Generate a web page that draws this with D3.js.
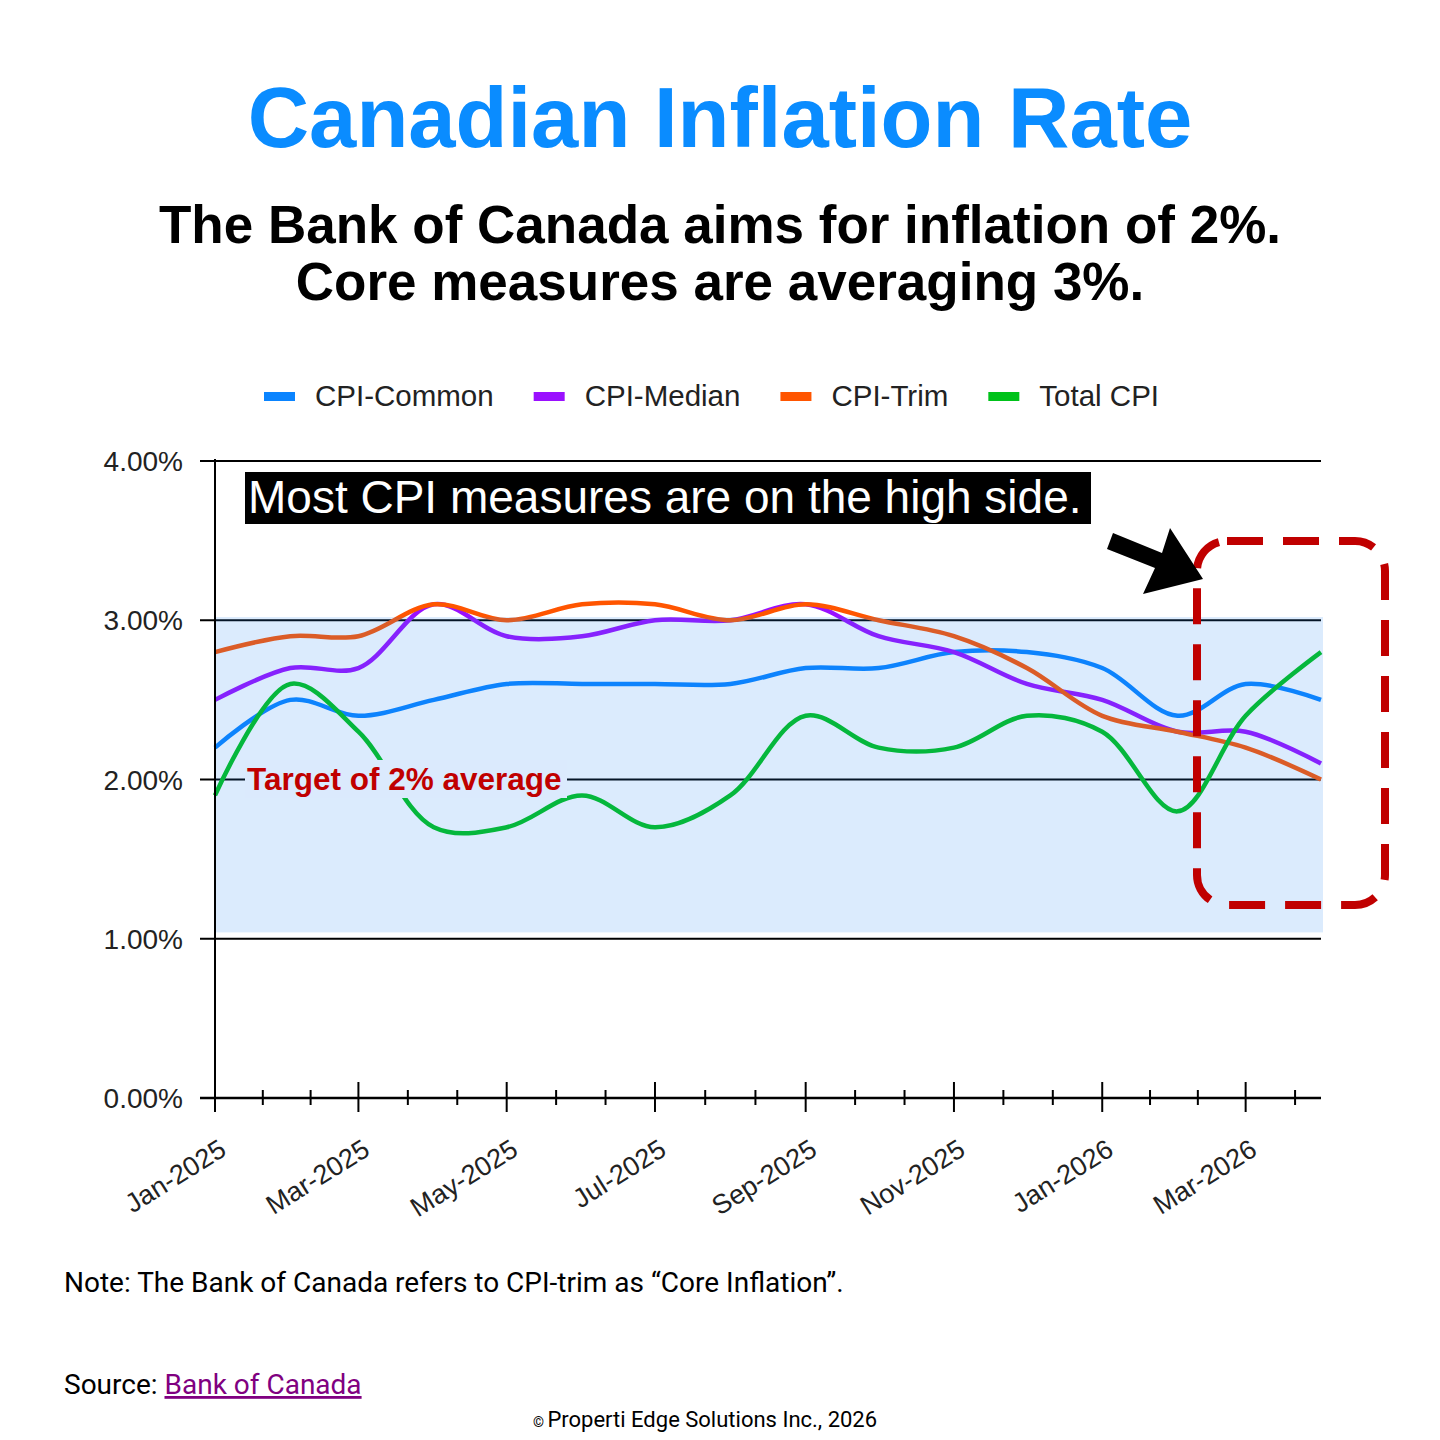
<!DOCTYPE html>
<html lang="en">
<head>
<meta charset="utf-8">
<script src="https://cdn.jsdelivr.net/npm/d3@7"></script>
<style>
  body { margin: 0; background: #fff; }
  svg { display: block; }
</style>
</head>
<body>
<script>
    // monthly data points (first of each month)
    const months = ["2025-01","2025-02","2025-03","2025-04","2025-05","2025-06","2025-07","2025-08",
                    "2025-09","2025-10","2025-11","2025-12","2026-01","2026-02","2026-03","2026-04"];
    const cpiCommon = [2.2, 2.5, 2.4, 2.5, 2.6, 2.6, 2.6, 2.6, 2.7, 2.7, 2.8, 2.8, 2.7, 2.4, 2.6, 2.5];
    const cpiMedian = [2.5, 2.7, 2.7, 3.1, 2.9, 2.9, 3.0, 3.0, 3.1, 2.9, 2.8, 2.6, 2.5, 2.3, 2.3, 2.1];
    const cpiTrim   = [2.8, 2.9, 2.9, 3.1, 3.0, 3.1, 3.1, 3.0, 3.1, 3.0, 2.9, 2.7, 2.4, 2.3, 2.2, 2.0];
    const totalCpi  = [1.9, 2.6, 2.3, 1.7, 1.7, 1.9, 1.7, 1.9, 2.4, 2.2, 2.2, 2.4, 2.3, 1.8, 2.4, 2.8];

    const seriesNames = ["CPI-Common", "CPI-Median", "CPI-Trim", "Total CPI"];
    const seriesColors = ["#0a84ff", "#9a10ff", "#ff5500", "#00c21a"];
    const yTicks = [0, 1, 2, 3, 4];
    const xTickMonths = ["2025-01","2025-03","2025-05","2025-07","2025-09","2025-11","2026-01","2026-03"];
    const band = [1.04, 3.02];   // shaded range

    const W = 1440, H = 1440;
    const parse = d3.utcParse("%Y-%m");
    const fmt = d3.utcFormat("%b-%Y");

    const svg = d3.select("body").append("svg")
        .attr("width", W).attr("height", H)
        .style("font-family", "'Liberation Sans', Arial, sans-serif");

    svg.append("rect").attr("width", W).attr("height", H).attr("fill", "#fff");

    // titles
    svg.append("text").attr("x", 720).attr("y", 147).attr("text-anchor", "middle")
        .attr("font-size", 85).attr("font-weight", "bold").attr("fill", "#0a8cff")
        .text("Canadian Inflation Rate");
    svg.append("text").attr("x", 720).attr("y", 243).attr("text-anchor", "middle")
        .attr("font-size", 53).attr("font-weight", "bold").attr("fill", "#000")
        .text("The Bank of Canada aims for inflation of 2%.");
    svg.append("text").attr("x", 720).attr("y", 300).attr("text-anchor", "middle")
        .attr("font-size", 53).attr("font-weight", "bold").attr("fill", "#000")
        .text("Core measures are averaging 3%.");

    // scales
    const x = d3.scaleUtc()
        .domain([parse("2025-01"), parse("2026-04")])
        .range([215, 1321]);
    const y = d3.scaleLinear().domain([0, 4]).range([1098, 461]);

    // horizontal grid lines
    svg.append("g").selectAll("line")
        .data(yTicks.filter(d => d > 0))
        .enter().append("line")
        .attr("x1", 200).attr("x2", x.range()[1])
        .attr("y1", d => y(d)).attr("y2", d => y(d))
        .attr("stroke", "#000").attr("stroke-width", 2);

    // y labels
    svg.append("g").selectAll("text")
        .data(yTicks)
        .enter().append("text")
        .attr("x", 183).attr("y", d => y(d) + 10)
        .attr("text-anchor", "end").attr("font-size", 28).attr("fill", "#222")
        .text(d => d.toFixed(2) + "%");

    // lines
    const line = d3.line()
        .x((d, i) => x(parse(months[i])))
        .y(d => y(d))
        .curve(d3.curveCatmullRom.alpha(0.5));

    const allSeries = [cpiCommon, cpiMedian, cpiTrim, totalCpi];
    svg.append("g").selectAll("path")
        .data(allSeries)
        .enter().append("path")
        .attr("d", d => line(d))
        .attr("fill", "none")
        .attr("stroke", (d, i) => seriesColors[i])
        .attr("stroke-width", 4.5)
        .attr("stroke-linejoin", "round");

    // shaded band drawn over the lines, semi transparent
    svg.append("rect")
        .attr("x", x.range()[0]).attr("width", x.range()[1] - x.range()[0] + 2)
        .attr("y", y(band[1])).attr("height", y(band[0]) - y(band[1]))
        .attr("fill", "rgb(30,130,240)").attr("fill-opacity", 0.16);

    // axes lines
    svg.append("line").attr("x1", 215).attr("x2", 215).attr("y1", 459).attr("y2", 1112)
        .attr("stroke", "#000").attr("stroke-width", 2);
    svg.append("line").attr("x1", 200).attr("x2", x.range()[1]).attr("y1", y(0)).attr("y2", y(0))
        .attr("stroke", "#000").attr("stroke-width", 2.5);

    // x ticks: majors every 2 months, two minors between
    const majors = xTickMonths.map(parse);
    const minors = [];
    majors.forEach((d, i) => {
        const next = i < majors.length - 1 ? majors[i + 1] : d3.utcMonth.offset(d, 2);
        const step = (next - d) / 3;
        [1, 2].forEach(k => {
            const t = new Date(+d + step * k);
            if (t <= x.domain()[1]) minors.push(t);
        });
    });
    svg.append("g").selectAll("line").data(majors).enter().append("line")
        .attr("x1", d => x(d)).attr("x2", d => x(d))
        .attr("y1", 1082).attr("y2", 1112)
        .attr("stroke", "#000").attr("stroke-width", 2);
    svg.append("g").selectAll("line").data(minors).enter().append("line")
        .attr("x1", d => x(d)).attr("x2", d => x(d))
        .attr("y1", 1090).attr("y2", 1105)
        .attr("stroke", "#000").attr("stroke-width", 2);

    svg.append("g").selectAll("text").data(majors).enter().append("text")
        .attr("transform", d => `translate(${x(d) + 13},${1154}) rotate(-32)`)
        .attr("text-anchor", "end").attr("font-size", 27).attr("fill", "#222")
        .text(d => fmt(d));

    // legend
    const legend = svg.append("g");
    let lx = 264;
    seriesNames.forEach((name, i) => {
        legend.append("rect").attr("x", lx).attr("y", 392).attr("width", 31).attr("height", 9)
            .attr("fill", seriesColors[i]);
        const t = legend.append("text").attr("x", lx + 51).attr("y", 406)
            .attr("font-size", 29.5).attr("fill", "#222").text(name);
        lx += 51 + t.node().getComputedTextLength() + 40;
    });

    // annotation: black box
    svg.append("rect").attr("x", 245).attr("y", 472).attr("width", 846).attr("height", 52).attr("fill", "#000");
    svg.append("text").attr("x", 248).attr("y", 513).attr("font-size", 46).attr("fill", "#fff")
        .text("Most CPI measures are on the high side.");

    // target label
    svg.append("rect").attr("x", 245).attr("y", 760).attr("width", 322).attr("height", 38).attr("fill", "#dbeafd");
    svg.append("text").attr("x", 247).attr("y", 790).attr("font-size", 31.5).attr("font-weight", "bold")
        .attr("fill", "#c00000").text("Target of 2% average");

    // red dashed box
    svg.append("rect").attr("x", 1197).attr("y", 541).attr("width", 188).attr("height", 364)
        .attr("rx", 30).attr("ry", 30)
        .attr("fill", "none").attr("stroke", "#c00000").attr("stroke-width", 8)
        .attr("stroke-dasharray", "36 20");

    // arrow
    svg.append("polygon")
        .attr("points", "1113,533 1162,553 1170,528 1203,579 1143,594 1155,568 1107,549")
        .attr("fill", "#000");

    // footer
    const foot = svg.append("g").style("font-family", "Roboto, sans-serif").attr("fill", "#000");
    foot.append("text").attr("x", 64).attr("y", 1292).attr("font-size", 28)
        .text("Note: The Bank of Canada refers to CPI-trim as \u201cCore Inflation\u201d.");
    const src = foot.append("text").attr("x", 64).attr("y", 1394).attr("font-size", 28);
    src.append("tspan").text("Source: ");
    src.append("tspan").attr("fill", "#800080").attr("text-decoration", "underline").text("Bank of Canada");
    const cp = foot.append("text").attr("x", 705).attr("y", 1427).attr("text-anchor", "middle").attr("font-size", 22);
    cp.append("tspan").attr("font-size", 14).text("\u00a9 ");
    cp.append("tspan").text("Properti Edge Solutions Inc., 2026");
</script>
</body>
</html>
